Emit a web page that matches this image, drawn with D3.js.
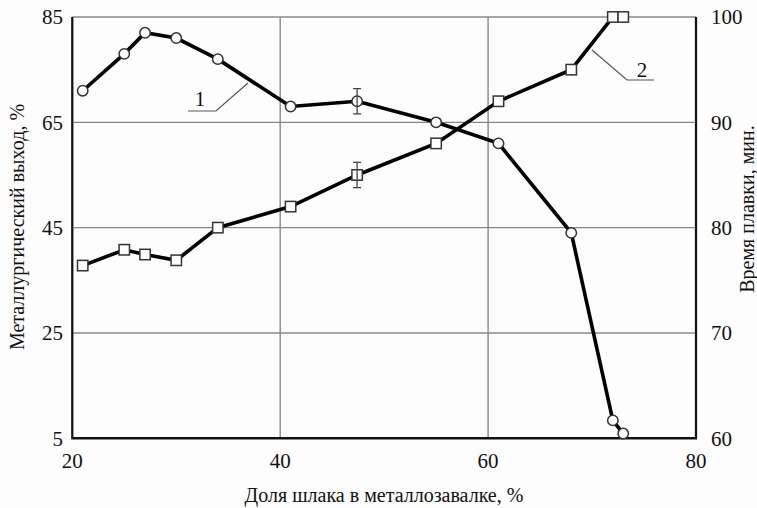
<!DOCTYPE html>
<html><head><meta charset="utf-8">
<script src="https://cdn.jsdelivr.net/npm/d3@7"></script>
<style>body{margin:0;background:#fff}svg{display:block}</style>
</head><body><div id="c"></div>
<script>
// Series 1: metallurgical yield, % (left axis)
const xs1 = [21, 25, 27, 30, 34, 41, 47.4, 55, 61, 68, 72, 73];
const ys1 = [71, 78, 82, 81, 77, 68, 69, 65, 61, 44, 8.4, 5.9];
const err1 = [0, 0, 0, 0, 0, 0, 2.4, 0, 0, 0, 0, 0];
// Series 2: melting time, min (right axis)
const xs2 = [21, 25, 27, 30, 34, 41, 47.4, 55, 61, 68, 72, 73];
const ys2 = [76.4, 77.9, 77.45, 76.9, 80, 82, 85, 88, 92, 95, 100, 100];
const err2 = [0, 0, 0, 0, 0, 0, 1.2, 0, 0, 0, 0, 0];
const xTicks = [20, 40, 60, 80];
const yLeftTicks = [5, 25, 45, 65, 85];
const yRightTicks = [60, 70, 80, 90, 100];

const W = 757, H = 508;
const L = 72.3, R = 696, T = 17, B = 438.3;
const FONT = "'Liberation Serif', 'Times New Roman', serif";
const svg = d3.select("#c").append("svg").attr("width", W).attr("height", H)
  .attr("font-family", FONT);
svg.append("rect").attr("width", W).attr("height", H).attr("fill", "#fdfdfd");

const x = d3.scaleLinear().domain([20, 80]).range([L, R]);
const yL = d3.scaleLinear().domain([5, 85]).range([B, T]);
const yR = d3.scaleLinear().domain([60, 100]).range([B, T]);

// grid
const g = svg.append("g");
g.selectAll(".hg").data(yLeftTicks).join("line")
  .attr("x1", L).attr("x2", R).attr("y1", d => yL(d)).attr("y2", d => yL(d))
  .attr("stroke", "#888").attr("stroke-width", 1.4);
g.selectAll(".vg").data(xTicks).join("line")
  .attr("y1", T).attr("y2", B).attr("x1", d => x(d)).attr("x2", d => x(d))
  .attr("stroke", "#888").attr("stroke-width", 1.4);

// axes frame (left, bottom, right thick)
svg.append("line").attr("x1", L).attr("x2", L).attr("y1", T).attr("y2", B).attr("stroke", "#111").attr("stroke-width", 2.2);
svg.append("line").attr("x1", R).attr("x2", R).attr("y1", T).attr("y2", B).attr("stroke", "#111").attr("stroke-width", 2.2);
svg.append("line").attr("x1", L - 1).attr("x2", R + 1).attr("y1", B).attr("y2", B).attr("stroke", "#111").attr("stroke-width", 2.4);

const txt = sel => sel.attr("font-family", FONT).attr("fill", "#111");

// tick labels
svg.selectAll(".yl").data(yLeftTicks).join("text").call(txt)
  .attr("x", 63).attr("y", d => yL(d)).attr("dy", "0.35em").attr("text-anchor", "end")
  .attr("font-size", 21).text(d => d);
svg.selectAll(".yr").data(yRightTicks).join("text").call(txt)
  .attr("x", 711).attr("y", d => yR(d)).attr("dy", "0.35em").attr("text-anchor", "start")
  .attr("font-size", 21).text(d => d);
svg.selectAll(".xl").data(xTicks).join("text").call(txt)
  .attr("x", d => x(d)).attr("y", 468).attr("text-anchor", "middle")
  .attr("font-size", 21).text(d => d);

// axis titles
svg.append("text").call(txt).attr("x", 384).attr("y", 502).attr("text-anchor", "middle")
  .attr("font-size", 20).text("Доля шлака в металлозавалке, %");
svg.append("text").call(txt).attr("transform", "translate(24,227) rotate(-90)").attr("text-anchor", "middle")
  .attr("font-size", 20).text("Металлургический выход, %");
svg.append("text").call(txt).attr("transform", "translate(754,209) rotate(-90)").attr("text-anchor", "middle")
  .attr("font-size", 20).text("Время плавки, мин.");

// leader lines & labels
svg.append("polyline").attr("points", "188,111 216,111 248,83").attr("fill", "none").attr("stroke", "#555").attr("stroke-width", 1.2);
svg.append("text").call(txt).attr("x", 200).attr("y", 106).attr("text-anchor", "middle").attr("font-size", 21).text("1");
svg.append("polyline").attr("points", "654,80 627,80 592,50").attr("fill", "none").attr("stroke", "#555").attr("stroke-width", 1.2);
svg.append("text").call(txt).attr("x", 642).attr("y", 77).attr("text-anchor", "middle").attr("font-size", 21).text("2");

// lines
const d1 = xs1.map((v, i) => ({x: v, y: ys1[i], e: err1[i]}));
const d2 = xs2.map((v, i) => ({x: v, y: ys2[i], e: err2[i]}));
svg.append("path").datum(d1).attr("fill", "none").attr("stroke", "#000").attr("stroke-width", 3.6)
  .attr("d", d3.line().x(d => x(d.x)).y(d => yL(d.y)));
svg.append("path").datum(d2).attr("fill", "none").attr("stroke", "#000").attr("stroke-width", 3.6)
  .attr("d", d3.line().x(d => x(d.x)).y(d => yR(d.y)));

// error bars
function errBars(data, ys) {
  const eb = svg.append("g").attr("stroke", "#444").attr("stroke-width", 1.3);
  data.filter(d => d.e > 0).forEach(d => {
    const cx = x(d.x);
    eb.append("line").attr("x1", cx).attr("x2", cx).attr("y1", ys(d.y - d.e)).attr("y2", ys(d.y + d.e));
    eb.append("line").attr("x1", cx - 4).attr("x2", cx + 4).attr("y1", ys(d.y - d.e)).attr("y2", ys(d.y - d.e));
    eb.append("line").attr("x1", cx - 4).attr("x2", cx + 4).attr("y1", ys(d.y + d.e)).attr("y2", ys(d.y + d.e));
  });
}

// markers
svg.selectAll(".c1").data(d1).join("circle")
  .attr("cx", d => x(d.x)).attr("cy", d => yL(d.y)).attr("r", 5.2)
  .attr("fill", "#fff").attr("stroke", "#333").attr("stroke-width", 1.5);
svg.selectAll(".s2").data(d2).join("rect")
  .attr("x", d => x(d.x) - 5.2).attr("y", d => yR(d.y) - 5.2).attr("width", 10.4).attr("height", 10.4)
  .attr("fill", "#fff").attr("stroke", "#333").attr("stroke-width", 1.5);
errBars(d1, yL);
errBars(d2, yR);
</script></body></html>
